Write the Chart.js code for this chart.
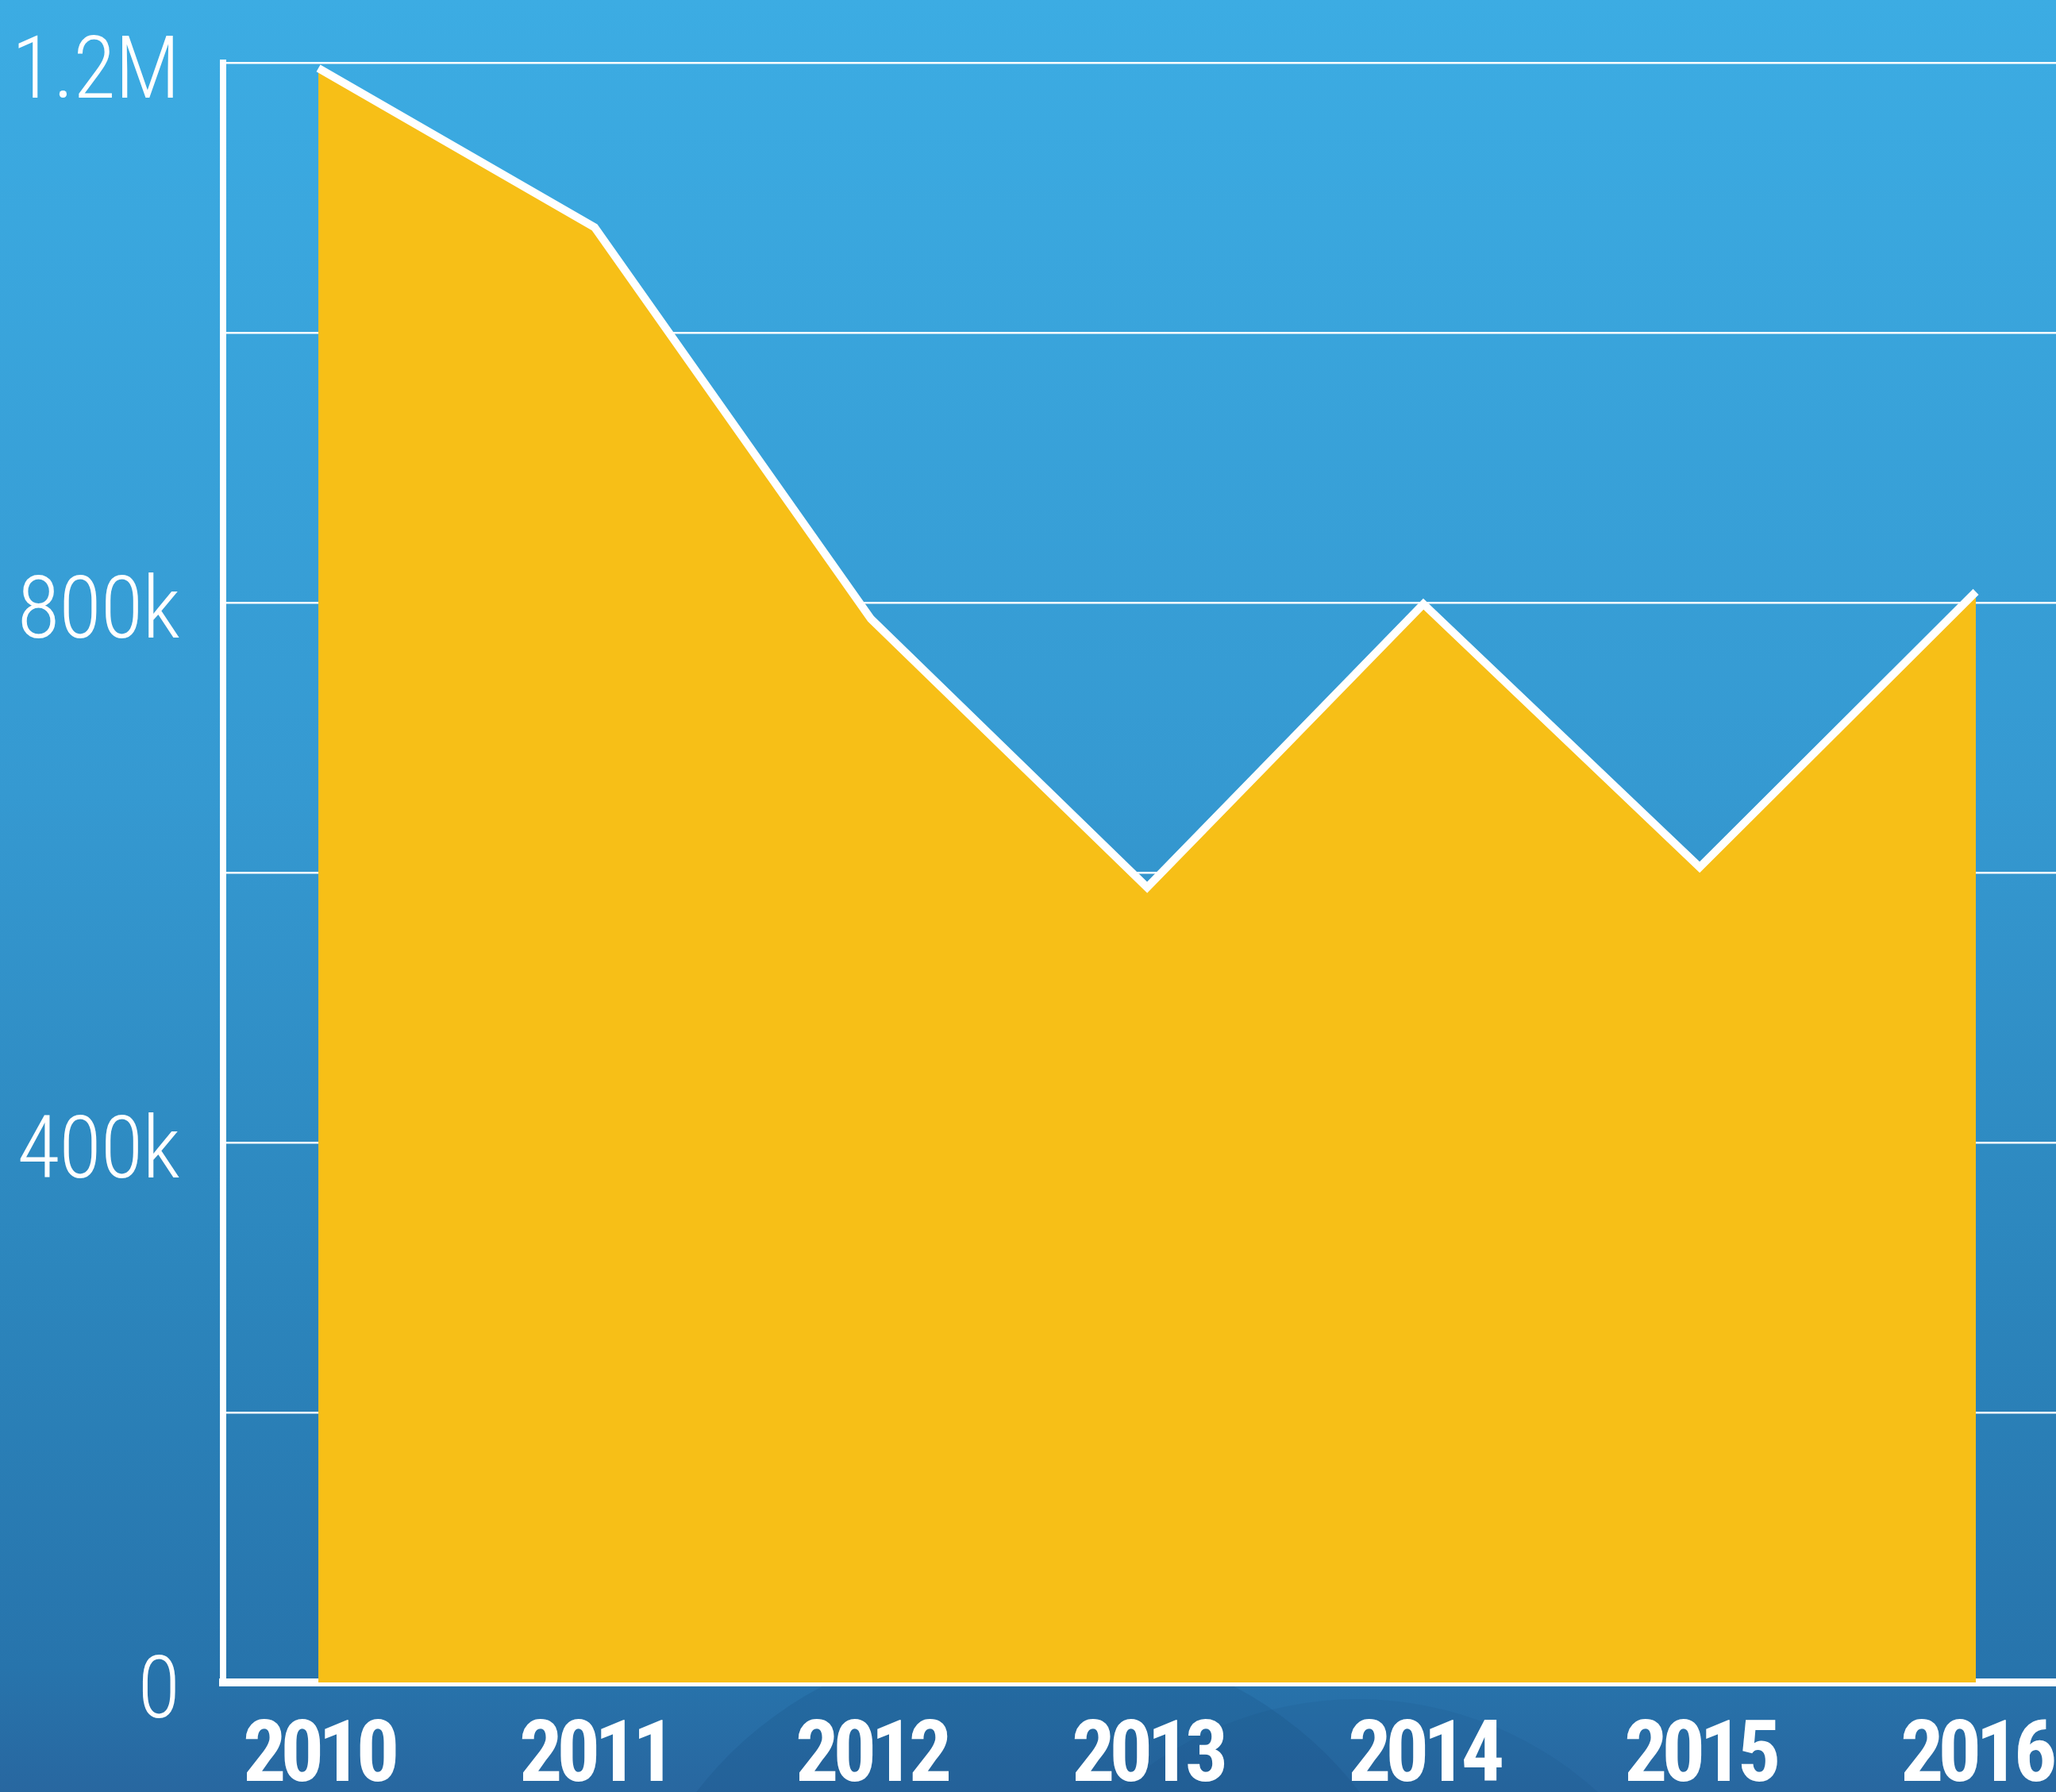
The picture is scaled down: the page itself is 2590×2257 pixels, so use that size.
<!DOCTYPE html>
<html lang="en">
<head>
    <meta charset="UTF-8">
    <title>Yearly Totals</title>
    <script src="https://cdn.jsdelivr.net/npm/chart.js"></script>
    <style>
        html, body {
            margin: 0;
            padding: 0;
        }
        body {
            width: 2590px;
            height: 2257px;
            overflow: hidden;
            position: relative;
            background: linear-gradient(to bottom, #3cace3 0px, #3599d1 1000px, #2c86bd 1600px, #2774ac 2100px, #2867a0 2257px);
        }
        /* faint globe shapes behind the axis labels */
        .deco {
            position: absolute;
            border-radius: 50%;
            background: rgba(20, 70, 120, 0.18);
        }
        #chart {
            position: absolute;
            left: 0;
            top: 0;
        }
    </style>
</head>
<body>
    <div class="deco" style="left:790px; top:2060px; width:1010px; height:900px;"></div>
    <div class="deco" style="left:1260px; top:2140px; width:900px; height:900px; background: rgba(20,70,120,0.10);"></div>
    <canvas id="chart" width="2590" height="2257"></canvas>

    <script>
        // chart data
        const years = [2010, 2011, 2012, 2013, 2014, 2015, 2016];
        const totals = [1196000, 1078000, 788000, 589000, 799000, 604000, 808000];
        const yTickLabels = { 0: '0', 400000: '400k', 800000: '800k', 1200000: '1.2M' };

        const fam = "Roboto, 'Open Sans', sans-serif";

        const ctx = document.getElementById('chart').getContext('2d');

        // labels in the original are a condensed face: keep font-stretch on every font change,
        // and pull the bold year labels a bit tighter
        const fontDesc = Object.getOwnPropertyDescriptor(CanvasRenderingContext2D.prototype, 'font');
        Object.defineProperty(ctx, 'font', {
            get() { return fontDesc.get.call(this); },
            set(v) {
                fontDesc.set.call(this, v);
                this.fontStretch = 'condensed';
                this.letterSpacing = v.indexOf('bold') >= 0 ? '-7px' : '-1px';
            }
        });

        new Chart(ctx, {
            type: 'line',
            data: {
                datasets: [{
                    label: 'Total',
                    data: years.map((y, i) => ({ x: y, y: totals[i] })),
                    borderColor: '#ffffff',
                    borderWidth: 10,
                    backgroundColor: '#f7bf17',
                    fill: 'origin',
                    pointRadius: 0,
                    tension: 0
                }]
            },
            options: {
                responsive: false,
                animation: false,
                layout: {
                    padding: { top: 79, right: 0, left: 0, bottom: 0 }
                },
                plugins: {
                    legend: { display: false },
                    tooltip: { enabled: false }
                },
                scales: {
                    x: {
                        type: 'linear',
                        min: 2009.655,
                        max: 2016.29,
                        afterFit: s => { s.height = 138; s.paddingLeft = 0; s.paddingRight = 0; },
                        afterBuildTicks: s => { s.ticks = years.map(v => ({ value: v })); },
                        grid: { display: false, drawTicks: false },
                        border: { display: true, color: '#ffffff', width: 10 },
                        ticks: {
                            color: '#ffffff',
                            padding: 32,
                            maxRotation: 0,
                            autoSkip: false,
                            font: { family: fam, size: 108, weight: 'bold' },
                            callback: v => String(v)
                        }
                    },
                    y: {
                        min: 0,
                        max: 1200000,
                        z: 1,
                        afterFit: s => { s.width = 281; s.paddingTop = 0; s.paddingBottom = 0; },
                        grid: { color: '#ffffff', lineWidth: 2.5, drawTicks: false },
                        border: { display: true, color: '#ffffff', width: 8 },
                        ticks: {
                            stepSize: 200000,
                            color: '#ffffff',
                            padding: 55,
                            labelOffset: 16,
                            font: { family: fam, size: 110, weight: 350 },
                            callback: v => yTickLabels[v] !== undefined ? yTickLabels[v] : ''
                        }
                    }
                }
            }
        });
    </script>
</body>
</html>
